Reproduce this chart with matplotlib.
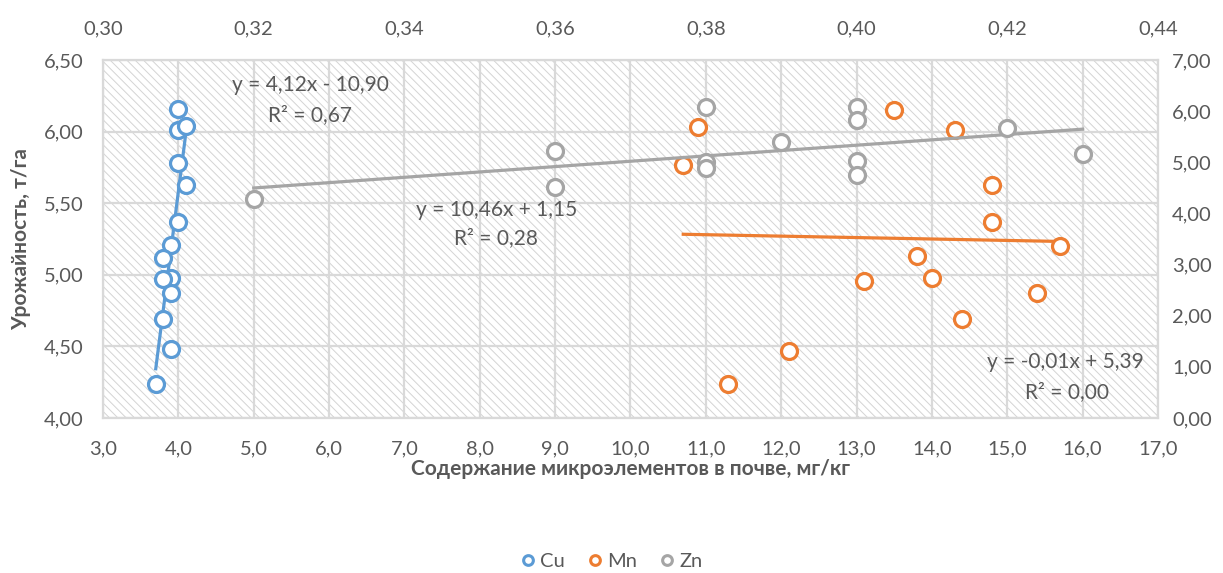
import matplotlib
matplotlib.use("Agg")
from matplotlib import pyplot as plt
from matplotlib.patches import Rectangle
from matplotlib.ticker import FuncFormatter, MultipleLocator
from matplotlib.lines import Line2D
import numpy as np

# данные: урожайность (т/га) и содержание микроэлементов (мг/кг)
cu_x = [4.0, 4.0, 4.1, 4.0, 4.1, 4.0, 3.9, 3.8, 3.9, 3.8, 3.9, 3.8, 3.9, 3.7]
cu_y = [6.16, 6.01, 6.04, 5.78, 5.63, 5.37, 5.21, 5.12, 4.98, 4.97, 4.87, 4.69, 4.48, 4.24]

mn_x = [10.9, 10.7, 12.1, 11.3, 13.5, 14.3, 14.8, 14.8, 13.8, 14.0, 13.1, 14.4, 15.7, 15.4]
mn_y = [6.03, 5.77, 4.47, 4.24, 6.15, 6.01, 5.63, 5.37, 5.13, 4.98, 4.96, 4.69, 5.20, 4.87]

# Zn - верхняя и правая оси
zn_x = [0.32, 0.36, 0.36, 0.38, 0.38, 0.38, 0.39, 0.40, 0.40, 0.40, 0.40, 0.42, 0.43]
zn_y = [4.29, 5.22, 4.51, 6.08, 5.01, 4.88, 5.40, 6.08, 5.83, 5.03, 4.75, 5.67, 5.16]

# линии тренда (коэффициенты из подписей)
cu_fit = [4.12, -10.90]
mn_fit = [-0.01, 5.39]
zn_fit = [10.46, 1.15]

C_CU, C_MN, C_ZN = "#5B9BD5", "#ED7D31", "#A5A5A5"
TXT = "#595959"
GRID = "#D9D9D9"

plt.rcParams['font.family'] = ['Lato', 'Noto Sans', 'DejaVu Sans']
plt.rcParams['hatch.linewidth'] = 0.7
plt.rcParams['hatch.color'] = "#D4D4D4"

fig = plt.figure(figsize=(12.23, 5.73), dpi=100)
pos = [103 / 1223, 1 - 418 / 573, (1158 - 103) / 1223, (418 - 60) / 573]
ax = fig.add_axes(pos)
ax2 = fig.add_axes(pos, frameon=False)

comma1 = FuncFormatter(lambda v, p: ("%.1f" % v).replace(".", ","))
comma2 = FuncFormatter(lambda v, p: ("%.2f" % v).replace(".", ","))

# фон с штриховкой
ax.add_patch(Rectangle((0, 0), 1, 1, transform=ax.transAxes, facecolor="white",
                       edgecolor="#D4D4D4", hatch="\\\\\\\\", linewidth=0, zorder=0))

ax.set_xlim(3, 17)
ax.set_ylim(4, 6.5)
ax.xaxis.set_major_locator(MultipleLocator(1))
ax.yaxis.set_major_locator(MultipleLocator(0.5))
ax.xaxis.set_major_formatter(comma1)
ax.yaxis.set_major_formatter(comma2)
ax.grid(True, color=GRID, linewidth=1.6, zorder=1)
ax.set_axisbelow(False)
for s in ax.spines.values():
    s.set_color(GRID)
    s.set_linewidth(1.6)
ax.tick_params(length=0, labelsize=14.5, labelcolor=TXT)
ax.tick_params(axis="x", pad=16)
ax.tick_params(axis="y", pad=14)

ax2.set_xlim(0.30, 0.44)
ax2.set_ylim(0, 7)
ax2.xaxis.tick_top()
ax2.yaxis.tick_right()
ax2.xaxis.set_major_locator(MultipleLocator(0.02))
ax2.yaxis.set_major_locator(MultipleLocator(1))
ax2.xaxis.set_major_formatter(comma2)
ax2.yaxis.set_major_formatter(comma2)
ax2.tick_params(length=0, labelsize=14.5, labelcolor=TXT)
ax2.tick_params(axis="x", pad=16)
ax2.tick_params(axis="y", pad=10)

mk = dict(marker="o", ls="none", ms=11.5, mew=2.3, mfc="white", zorder=4)

# Cu
xx = np.array([min(cu_x), max(cu_x)])
ax.plot(xx, np.polyval(cu_fit, xx), color=C_CU, lw=2.3, zorder=3)
ax.plot(cu_x, cu_y, mec=C_CU, **mk)

# Mn
xx = np.array([min(mn_x), max(mn_x)])
ax.plot(xx, np.polyval(mn_fit, xx), color=C_MN, lw=2.3, zorder=3)
ax.plot(mn_x, mn_y, mec=C_MN, **mk)

# Zn
xx = np.array([min(zn_x), max(zn_x)])
ax2.plot(xx, np.polyval(zn_fit, xx), color=C_ZN, lw=2.3, zorder=3)
ax2.plot(zn_x, zn_y, mec=C_ZN, **mk)

# подписи уравнений
fs = 15
ax.text(5.75, 6.325, "y = 4,12x - 10,90", ha="center", va="center", fontsize=fs, color=TXT)
ax.text(5.75, 6.116, "R² = 0,67", ha="center", va="center", fontsize=fs, color=TXT)
ax.text(8.23, 5.453, "y = 10,46x + 1,15", ha="center", va="center", fontsize=fs, color=TXT)
ax.text(8.21, 5.255, "R² = 0,28", ha="center", va="center", fontsize=fs, color=TXT)
ax.text(15.77, 4.393, "y = -0,01x + 5,39", ha="center", va="center", fontsize=fs, color=TXT)
ax.text(15.79, 4.184, "R² = 0,00", ha="center", va="center", fontsize=fs, color=TXT)

ax.set_xlabel("Содержание микроэлементов в почве, мг/кг", fontsize=15, fontweight="bold", color=TXT)
ax.set_ylabel("Урожайность, т/га", fontsize=15, fontweight="bold", color=TXT)
ax.xaxis.set_label_coords(0.5, -0.115)
ax.yaxis.set_label_coords(-0.068, 0.5)

handles = [Line2D([], [], marker="o", ls="none", ms=7, mew=2.2, mfc="white", mec=c)
           for c in (C_CU, C_MN, C_ZN)]
leg = fig.legend(handles, ["Cu", "Mn", "Zn"], loc="center", bbox_to_anchor=(0.499, 0.02),
                 ncol=3, frameon=False, fontsize=14.5, handletextpad=0.1, columnspacing=1.0,
                 handlelength=1.0)
for t in leg.get_texts():
    t.set_color(TXT)

fig.savefig("out.png", dpi=100)
